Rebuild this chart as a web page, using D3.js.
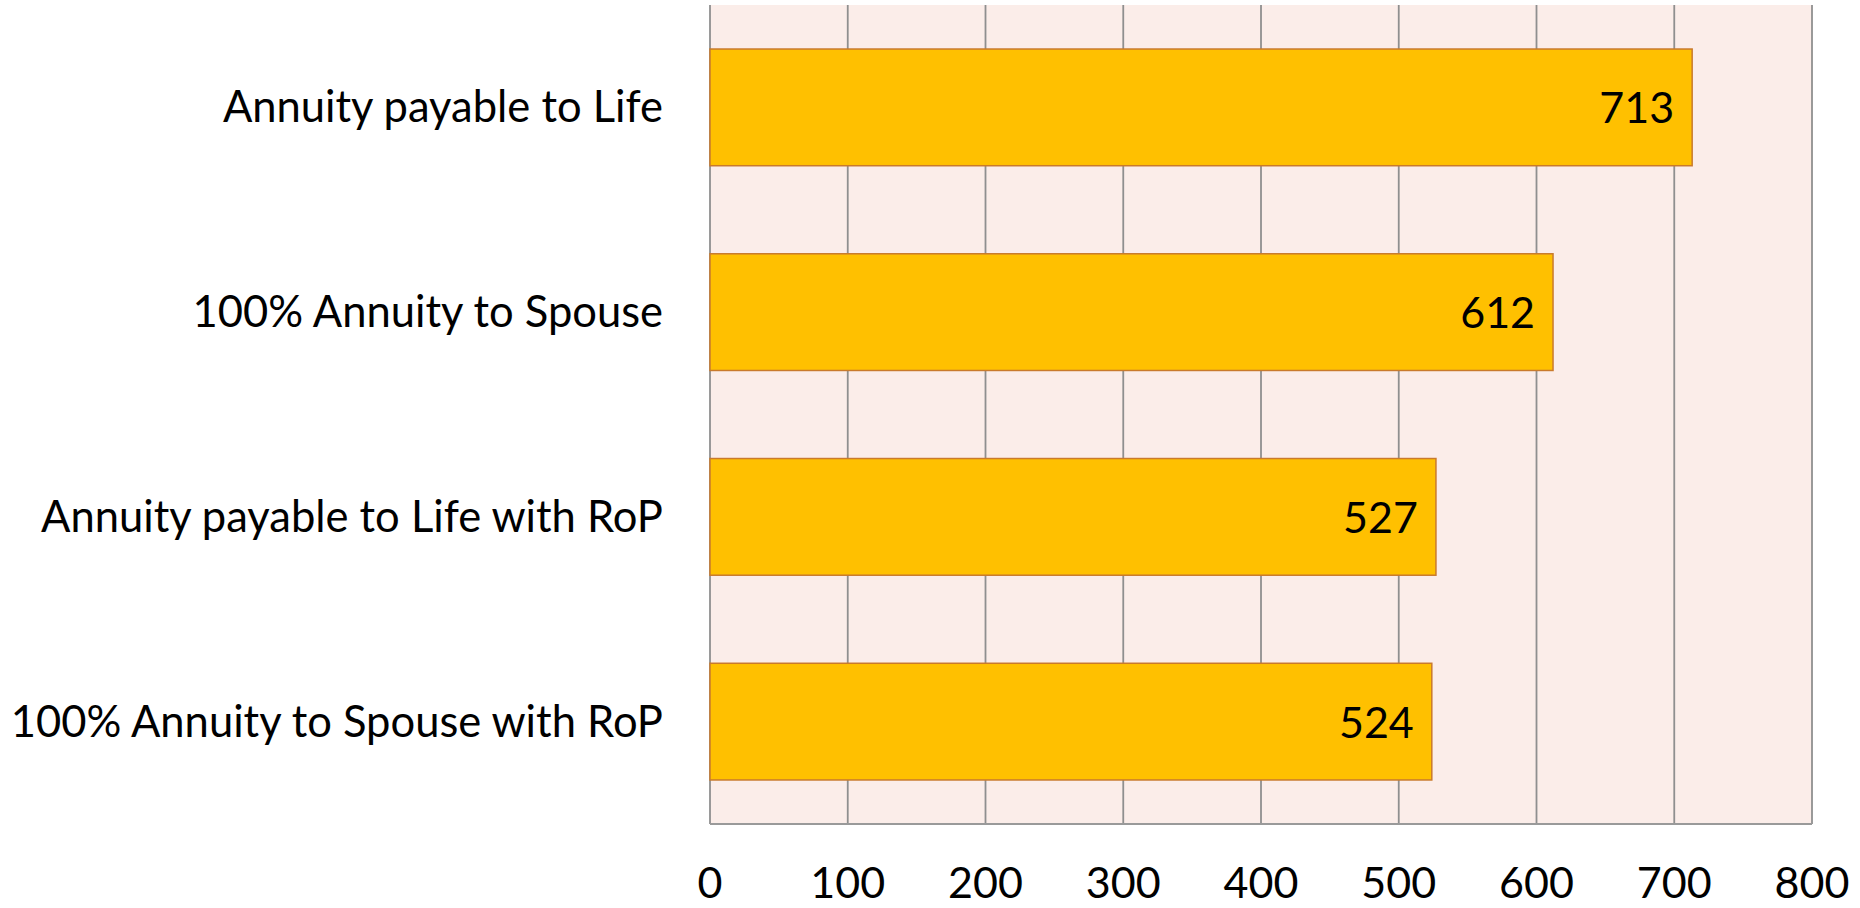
<!DOCTYPE html>
<html lang="en">
<head>
    <meta charset="UTF-8">
    <title>Annuity options</title>
    <style>
        body {
            margin: 0;
            padding: 0;
            background: #ffffff;
            font-family: Lato, "Open Sans", Arial, sans-serif;
        }
    </style>
</head>
<body>
    <div id="chart"></div>
    <script src="https://d3js.org/d3.v7.min.js"></script>
    <script>
        const categories = [
            'Annuity payable to Life',
            '100% Annuity to Spouse',
            'Annuity payable to Life with RoP',
            '100% Annuity to Spouse with RoP'
        ];
        const values = [713, 612, 527, 524];
        const xTicks = [0, 100, 200, 300, 400, 500, 600, 700, 800];

        const W = 1860, H = 908;
        const margin = { top: 5, right: 48, bottom: 84, left: 710 };
        const width = W - margin.left - margin.right;
        const height = H - margin.top - margin.bottom;

        const svg = d3.select('#chart').append('svg')
            .attr('width', W)
            .attr('height', H);

        const g = svg.append('g')
            .attr('transform', `translate(${margin.left},${margin.top})`);

        const x = d3.scaleLinear()
            .domain([0, 800])
            .range([0, width]);

        const y = d3.scaleBand()
            .domain(categories)
            .range([0, height])
            .paddingInner(0.43)
            .paddingOuter(0.215);

        // plot background
        g.append('rect')
            .attr('x', 0)
            .attr('y', 0)
            .attr('width', width)
            .attr('height', height)
            .attr('fill', '#fbede9');

        // vertical gridlines
        g.selectAll('line.grid')
            .data(xTicks)
            .enter().append('line')
            .attr('class', 'grid')
            .attr('x1', d => x(d))
            .attr('x2', d => x(d))
            .attr('y1', 0)
            .attr('y2', height)
            .attr('stroke', '#8f8f8f')
            .attr('stroke-width', 1.8);

        // bottom line
        g.append('line')
            .attr('x1', 0)
            .attr('x2', width)
            .attr('y1', height)
            .attr('y2', height)
            .attr('stroke', '#9a9a9a')
            .attr('stroke-width', 2);

        // bars
        g.selectAll('rect.bar')
            .data(values)
            .enter().append('rect')
            .attr('class', 'bar')
            .attr('x', x(0))
            .attr('y', (d, i) => y(categories[i]))
            .attr('width', d => x(d) - x(0))
            .attr('height', y.bandwidth())
            .attr('fill', '#ffc000')
            .attr('stroke', '#c97a2c')
            .attr('stroke-width', 1.5);

        // value labels inside bar ends
        g.selectAll('text.value')
            .data(values)
            .enter().append('text')
            .attr('class', 'value')
            .attr('x', d => x(d) - 18)
            .attr('y', (d, i) => y(categories[i]) + y.bandwidth() / 2 + 16)
            .attr('text-anchor', 'end')
            .style('font-size', '43px')
            .style('fill', '#000')
            .text(d => d);

        // category labels
        g.selectAll('text.cat')
            .data(categories)
            .enter().append('text')
            .attr('class', 'cat')
            .attr('x', -47)
            .attr('y', d => y(d) + y.bandwidth() / 2 + 15)
            .attr('text-anchor', 'end')
            .style('font-size', '43.5px')
            .style('fill', '#000')
            .text(d => d);

        // x tick labels
        g.selectAll('text.tick')
            .data(xTicks)
            .enter().append('text')
            .attr('class', 'tick')
            .attr('x', d => x(d))
            .attr('y', height + 74)
            .attr('text-anchor', 'middle')
            .style('font-size', '43px')
            .style('fill', '#000')
            .text(d => d);
    </script>
</body>
</html>
